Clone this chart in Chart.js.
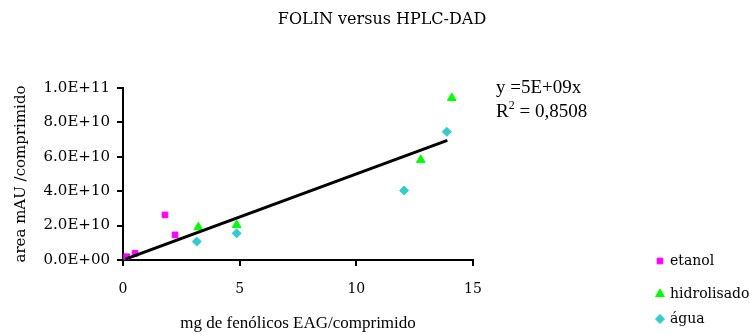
<!DOCTYPE html>
<html>
<head>
<meta charset="utf-8">
<script src="https://cdn.jsdelivr.net/npm/chart.js@4"></script>
<style>
  body { margin: 0; background: #fff; }
</style>
</head>
<body>
<canvas id="folinChart" width="750" height="334"></canvas>
<script>
// mg phenolics (x) against HPLC area (y), one pair of arrays per extract
const etanolX = [0.16, 0.52, 1.80, 2.23];
const etanolY = [1.9e9, 3.9e9, 2.62e10, 1.46e10];
const hidrolisadoX = [3.23, 4.87, 12.76, 14.09];
const hidrolisadoY = [1.9e10, 2.04e10, 5.82e10, 9.42e10];
const aguaX = [3.16, 4.87, 12.05, 13.88];
const aguaY = [1.07e10, 1.55e10, 4.04e10, 7.45e10];
const seriesNames = ['etanol', 'hidrolisado', 'água'];

const xTicks = [0, 5, 10, 15];
const yTicks = [0, 2e10, 4e10, 6e10, 8e10, 1e11];

// linear fit through the origin
const trendSlope = 5e9;
const trendRange = [0.1, 13.9];
const rSquared = '0,8508';

const toPoints = (xs, ys) => xs.map((x, i) => ({ x: x, y: ys[i] }));

// Excel-style scientific notation, e.g. 2.0E+10
function sci(v, digits) {
    const parts = v.toExponential(digits).split('e');
    const n = parseInt(parts[1], 10);
    return parts[0] + 'E' + (n < 0 ? '-' : '+') + String(Math.abs(n)).padStart(2, '0');
}

const markers = [
    { color: '#FF00FF', style: 'rect', radius: 4 },
    { color: '#00FF00', style: 'triangle', radius: 5 },
    { color: '#33CCCC', style: 'rectRot', radius: 4.5 }
];

// title, fit equation and the legend are painted by hand
const annotations = {
    id: 'annotations',
    afterDraw(chart) {
        const ctx = chart.ctx;
        ctx.save();
        ctx.fillStyle = '#000';
        ctx.textBaseline = 'middle';
        ctx.textAlign = 'center';
        ctx.font = '16px "DejaVu Serif"';
        ctx.fillText('FOLIN versus HPLC-DAD', 382, 20);

        ctx.textAlign = 'left';
        ctx.textBaseline = 'alphabetic';
        ctx.font = '19px "Liberation Serif"';
        ctx.fillText('y =' + sci(trendSlope, 0) + 'x', 496, 93);
        let x = 496;
        ctx.fillText('R', x, 117);
        x += ctx.measureText('R').width;
        ctx.font = '12px "Liberation Serif"';
        ctx.fillText('2', x, 109);
        x += ctx.measureText('2').width;
        ctx.font = '19px "Liberation Serif"';
        ctx.fillText(' = ' + rSquared, x, 117);

        const rows = [261, 294, 319];
        ctx.font = '14px "DejaVu Serif"';
        ctx.textBaseline = 'middle';
        seriesNames.forEach((name, i) => {
            const m = markers[i];
            ctx.fillStyle = m.color;
            ctx.strokeStyle = m.color;
            Chart.helpers.drawPoint(ctx, { pointStyle: m.style, radius: m.radius, rotation: 0, borderWidth: 1 }, 660, rows[i]);
            ctx.fillStyle = '#000';
            ctx.fillText(name, 670, rows[i]);
        });
        ctx.restore();
    }
};

const scatterSet = (label, xs, ys, m) => ({
    label: label,
    type: 'scatter',
    data: toPoints(xs, ys),
    pointStyle: m.style,
    pointRadius: m.radius,
    backgroundColor: m.color,
    borderColor: m.color,
    borderWidth: 1
});

new Chart(document.getElementById('folinChart'), {
    type: 'scatter',
    data: {
        datasets: [
            {
                label: 'trend',
                type: 'line',
                data: trendRange.map(v => ({ x: v, y: trendSlope * v })),
                borderColor: '#000',
                borderWidth: 3,
                pointRadius: 0,
                fill: false
            },
            scatterSet(seriesNames[0], etanolX, etanolY, markers[0]),
            scatterSet(seriesNames[1], hidrolisadoX, hidrolisadoY, markers[1]),
            scatterSet(seriesNames[2], aguaX, aguaY, markers[2])
        ]
    },
    options: {
        responsive: false,
        animation: false,
        layout: { padding: { left: 0, right: 277, top: 88, bottom: 0 } },
        plugins: {
            legend: { display: false },
            tooltip: { enabled: false }
        },
        scales: {
            x: {
                type: 'linear',
                min: 0,
                max: 15,
                afterBuildTicks: s => { s.ticks = xTicks.map(v => ({ value: v })); },
                afterFit: s => { s.height = 74; },
                grid: { display: true, drawOnChartArea: false, drawTicks: true, tickLength: 6, color: '#000', lineWidth: 2 },
                border: { display: true, color: '#000', width: 2 },
                ticks: { color: '#000', padding: 15, font: { family: 'DejaVu Serif', size: 14 } },
                title: {
                    display: true,
                    text: 'mg de fenólicos EAG/comprimido',
                    color: '#000',
                    padding: { top: 0, bottom: 0 },
                    font: { family: 'Liberation Serif', size: 17 }
                }
            },
            y: {
                type: 'linear',
                min: 0,
                max: 1e11,
                afterBuildTicks: s => { s.ticks = yTicks.map(v => ({ value: v })); },
                afterFit: s => { s.width = 123; },
                grid: { display: true, drawOnChartArea: false, drawTicks: true, tickLength: 6, color: '#000', lineWidth: 2 },
                border: { display: true, color: '#000', width: 2 },
                ticks: { color: '#000', padding: 7, font: { family: 'DejaVu Serif', size: 15 }, callback: v => sci(v, 1) },
                title: {
                    display: true,
                    text: 'area mAU /comprimido',
                    color: '#000',
                    padding: { top: 12, bottom: 0 },
                    font: { family: 'DejaVu Serif', size: 15 }
                }
            }
        }
    },
    plugins: [annotations]
});
</script>
</body>
</html>
